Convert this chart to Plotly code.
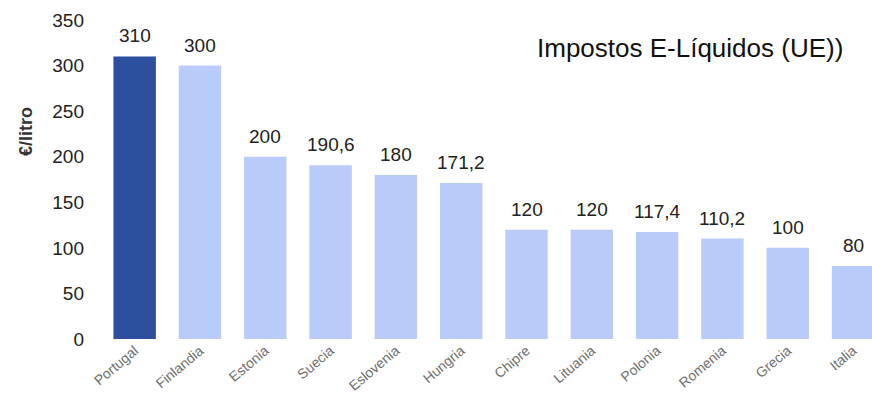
import plotly.graph_objects as go

countries = ["Portugal", "Finlandia", "Estonia", "Suecia", "Eslovenia", "Hungria",
             "Chipre", "Lituania", "Polonia", "Romenia", "Grecia", "Italia"]
values = [310, 300, 200, 190.6, 180, 171.2, 120, 120, 117.4, 110.2, 100, 80]
bar_colors = ["#2C4F9E"] + ["#B9CCF9"] * 11
labels = [f"{v:g}".replace(".", ",") for v in values]

FONT = "Liberation Sans, Arial"
W, H = 872, 401
ML, MR, MT, MB = 102, 0, 20, 62

fig = go.Figure()
fig.add_trace(go.Bar(
    x=list(range(len(countries))), y=values,
    marker=dict(color=bar_colors, line=dict(width=0)),
    width=0.65, hoverinfo="x+y",
))

annotations = []
for i, (v, t) in enumerate(zip(values, labels)):
    annotations.append(dict(
        x=i, y=v, xref="x", yref="y", text=t, showarrow=False,
        yanchor="bottom", xanchor="center", yshift=8,
        font=dict(family=FONT, size=19, color="#222222"),
    ))

pw = W - ML - MR
ph = H - MT - MB
annotations.append(dict(
    text="Impostos E-Líquidos (UE))", xref="paper", yref="paper",
    x=(690 - ML) / pw, y=(H - MB - 48) / ph, xanchor="center", yanchor="middle",
    showarrow=False, font=dict(family=FONT, size=26, color="#111111"),
))
annotations.append(dict(
    text="<b>€/litro</b>", xref="paper", yref="paper",
    x=(26 - ML) / pw, y=(H - MB - 132) / ph, xanchor="center", yanchor="middle",
    textangle=-90, showarrow=False, font=dict(family=FONT, size=18, color="#333333"),
))

fig.update_layout(
    width=W, height=H,
    margin=dict(l=ML, r=MR, t=MT, b=MB, autoexpand=False),
    paper_bgcolor="white", plot_bgcolor="white",
    showlegend=False,
    font=dict(family=FONT, color="#222222"),
    xaxis=dict(
        range=[-0.5, 11.29],
        tickmode="array", tickvals=list(range(len(countries))), ticktext=countries,
        tickangle=-40, tickfont=dict(size=14, color="#707070"),
        showgrid=False, showline=False, zeroline=False, ticks="",
    ),
    yaxis=dict(
        range=[0, 350], tickvals=[0, 50, 100, 150, 200, 250, 300, 350],
        tickfont=dict(size=19, color="#222222"),
        showgrid=False, showline=False, zeroline=False, ticks="",
        ticklabelstandoff=17,
    ),
    annotations=annotations,
)

fig.write_html("out.html", config={"displayModeBar": False})

# remove the default page margin so the figure sits at the window origin
with open("out.html", encoding="utf-8") as f:
    html = f.read()
html = html.replace("<head>", "<head><style>html,body{margin:0;padding:0;overflow:hidden;}</style>", 1)
with open("out.html", "w", encoding="utf-8") as f:
    f.write(html)
